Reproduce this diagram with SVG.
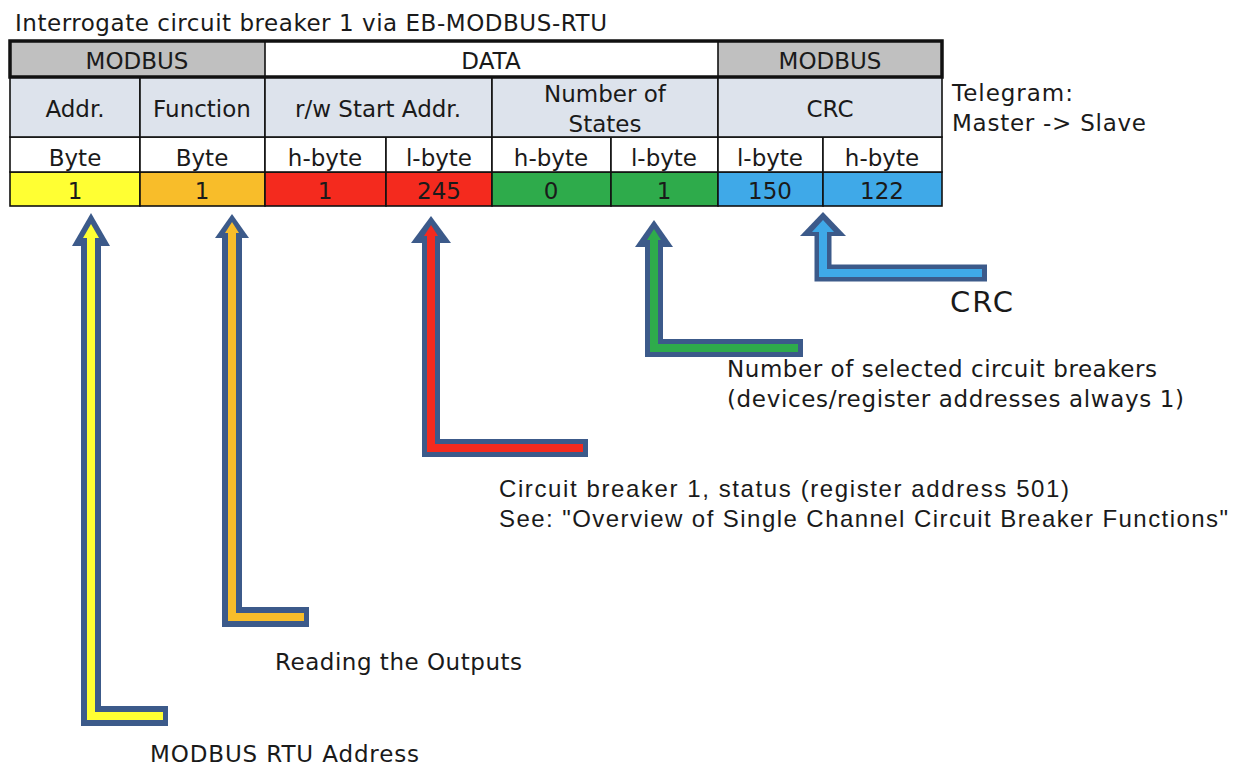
<svg xmlns="http://www.w3.org/2000/svg" width="1239" height="767" viewBox="0 0 1239 767">
<style>
text{font-family:"DejaVu Sans","Verdana",sans-serif;fill:#1a1a1a;}
.t{font-size:23px;}
.n{font-family:"Liberation Sans",Arial,sans-serif;font-size:24px;}
.c{font-size:23px;text-anchor:middle;}
.cell{stroke:#111;stroke-width:1.6;}
.hdr{fill:#dde3ec;}
.o{fill:none;stroke:#3c5a8a;stroke-width:20;stroke-linejoin:miter;stroke-linecap:butt;}
.i{fill:none;stroke-width:8;stroke-linejoin:miter;}
.ho{fill:#3c5a8a;}
</style>
<rect width="1239" height="767" fill="#fff"/>
<text class="t" x="15" y="31" textLength="592">Interrogate circuit breaker 1 via EB-MODBUS-RTU</text>

<g id="table">
<rect class="cell" x="10" y="172" width="130" height="34" fill="#ffff33"/>
<rect class="cell" x="140" y="172" width="125" height="34" fill="#f8bd2a"/>
<rect class="cell" x="265" y="172" width="121" height="34" fill="#f42a1e"/>
<rect class="cell" x="386" y="172" width="106" height="34" fill="#f42a1e"/>
<rect class="cell" x="492" y="172" width="119" height="34" fill="#2eab4b"/>
<rect class="cell" x="611" y="172" width="107" height="34" fill="#2eab4b"/>
<rect class="cell" x="718" y="172" width="105" height="34" fill="#3fa9e8"/>
<rect class="cell" x="823" y="172" width="119" height="34" fill="#3fa9e8"/>
<rect class="cell" x="10" y="137" width="130" height="35" fill="#fff"/>
<rect class="cell" x="140" y="137" width="125" height="35" fill="#fff"/>
<rect class="cell" x="265" y="137" width="121" height="35" fill="#fff"/>
<rect class="cell" x="386" y="137" width="106" height="35" fill="#fff"/>
<rect class="cell" x="492" y="137" width="119" height="35" fill="#fff"/>
<rect class="cell" x="611" y="137" width="107" height="35" fill="#fff"/>
<rect class="cell" x="718" y="137" width="105" height="35" fill="#fff"/>
<rect class="cell" x="823" y="137" width="119" height="35" fill="#fff"/>
<rect class="cell hdr" x="10" y="77" width="130" height="60"/>
<rect class="cell hdr" x="140" y="77" width="125" height="60"/>
<rect class="cell hdr" x="265" y="77" width="227" height="60"/>
<rect class="cell hdr" x="492" y="77" width="226" height="60"/>
<rect class="cell hdr" x="718" y="77" width="224" height="60"/>
<rect x="10" y="41" width="255" height="36" fill="#c0c0c0"/>
<rect x="265" y="41" width="453" height="36" fill="#fff"/>
<rect x="718" y="41" width="224" height="36" fill="#c0c0c0"/>
<line x1="265" y1="41" x2="265" y2="77" stroke="#111" stroke-width="1.6"/>
<line x1="718" y1="41" x2="718" y2="77" stroke="#111" stroke-width="1.6"/>
<rect x="10" y="41" width="932" height="36" fill="none" stroke="#111" stroke-width="3.5"/>

<text class="c" x="137" y="69">MODBUS</text>
<text class="c" x="491" y="69">DATA</text>
<text class="c" x="830" y="69">MODBUS</text>

<text class="c" x="75" y="117">Addr.</text>
<text class="c" x="202" y="117">Function</text>
<text class="c" x="378" y="117">r/w Start Addr.</text>
<text class="c" x="605" y="102">Number of</text>
<text class="c" x="605" y="132">States</text>
<text class="c" x="830" y="117">CRC</text>

<text class="c" x="75" y="166">Byte</text>
<text class="c" x="202" y="166">Byte</text>
<text class="c" x="325" y="166">h-byte</text>
<text class="c" x="439" y="166">l-byte</text>
<text class="c" x="551" y="166">h-byte</text>
<text class="c" x="664" y="166">l-byte</text>
<text class="c" x="770" y="166">l-byte</text>
<text class="c" x="882" y="166">h-byte</text>

<text class="c" x="75" y="199">1</text>
<text class="c" x="202" y="199">1</text>
<text class="c" x="325" y="199">1</text>
<text class="c" x="439" y="199">245</text>
<text class="c" x="551" y="199">0</text>
<text class="c" x="664" y="199">1</text>
<text class="c" x="770" y="199">150</text>
<text class="c" x="882" y="199">122</text>
</g>

<g id="telegram">
<text class="t" x="952" y="101" textLength="121">Telegram:</text>
<text class="t" x="952" y="131" textLength="194">Master -&gt; Slave</text>
</g>

<g id="connectors">
<path class="o" d="M91,243 V716 H168"/>
<polygon class="ho" points="91,213 110,246 72,246"/>
<path class="i" stroke="#ffff33" d="M91,232 V716 H163"/>
<polygon fill="#ffff33" points="91,224 99,238 83,238"/>
<path class="o" d="M232,235 V617 H309"/>
<polygon class="ho" points="232,214 249,238 215,238"/>
<path class="i" stroke="#f8bd2a" d="M232,228 V617 H304"/>
<polygon fill="#f8bd2a" points="232,222 239,233 225,233"/>
<path class="o" style="stroke-width:18" d="M431,240 V448 H588"/>
<polygon class="ho" points="431,216 451,243 411,243"/>
<path class="i" stroke="#f42a1e" d="M431,232 V448 H583"/>
<polygon fill="#f42a1e" points="431,225 438,236 424,236"/>
<path class="o" style="stroke-width:18" d="M654,244 V348 H803"/>
<polygon class="ho" points="654,220 673,247 635,247"/>
<path class="i" stroke="#2eab4b" d="M654,236 V348 H798"/>
<polygon fill="#2eab4b" points="654,229 661,240 647,240"/>
<path class="o" style="stroke-width:17" d="M823,232 V273 H987"/>
<polygon class="ho" points="823,212 846,236 800,236"/>
<path class="i" stroke="#3fa9e8" d="M823,228 V273 H982"/>
<polygon fill="#3fa9e8" points="823,220 834,232 812,232"/>
</g>

<g id="labels">
<text x="950" y="312" style="font-size:29px" textLength="63">CRC</text>
<text class="t" x="727" y="377" textLength="430">Number of selected circuit breakers</text>
<text class="t" x="727" y="407" textLength="457">(devices/register addresses always 1)</text>
<text class="n" x="499" y="497" textLength="570">Circuit breaker 1, status (register address 501)</text>
<text class="n" x="499" y="527" textLength="729">See: "Overview of Single Channel Circuit Breaker Functions"</text>
<text class="t" x="275" y="670" textLength="247">Reading the Outputs</text>
<text class="t" x="150" y="762" textLength="269">MODBUS RTU Address</text>
</g>
</svg>
